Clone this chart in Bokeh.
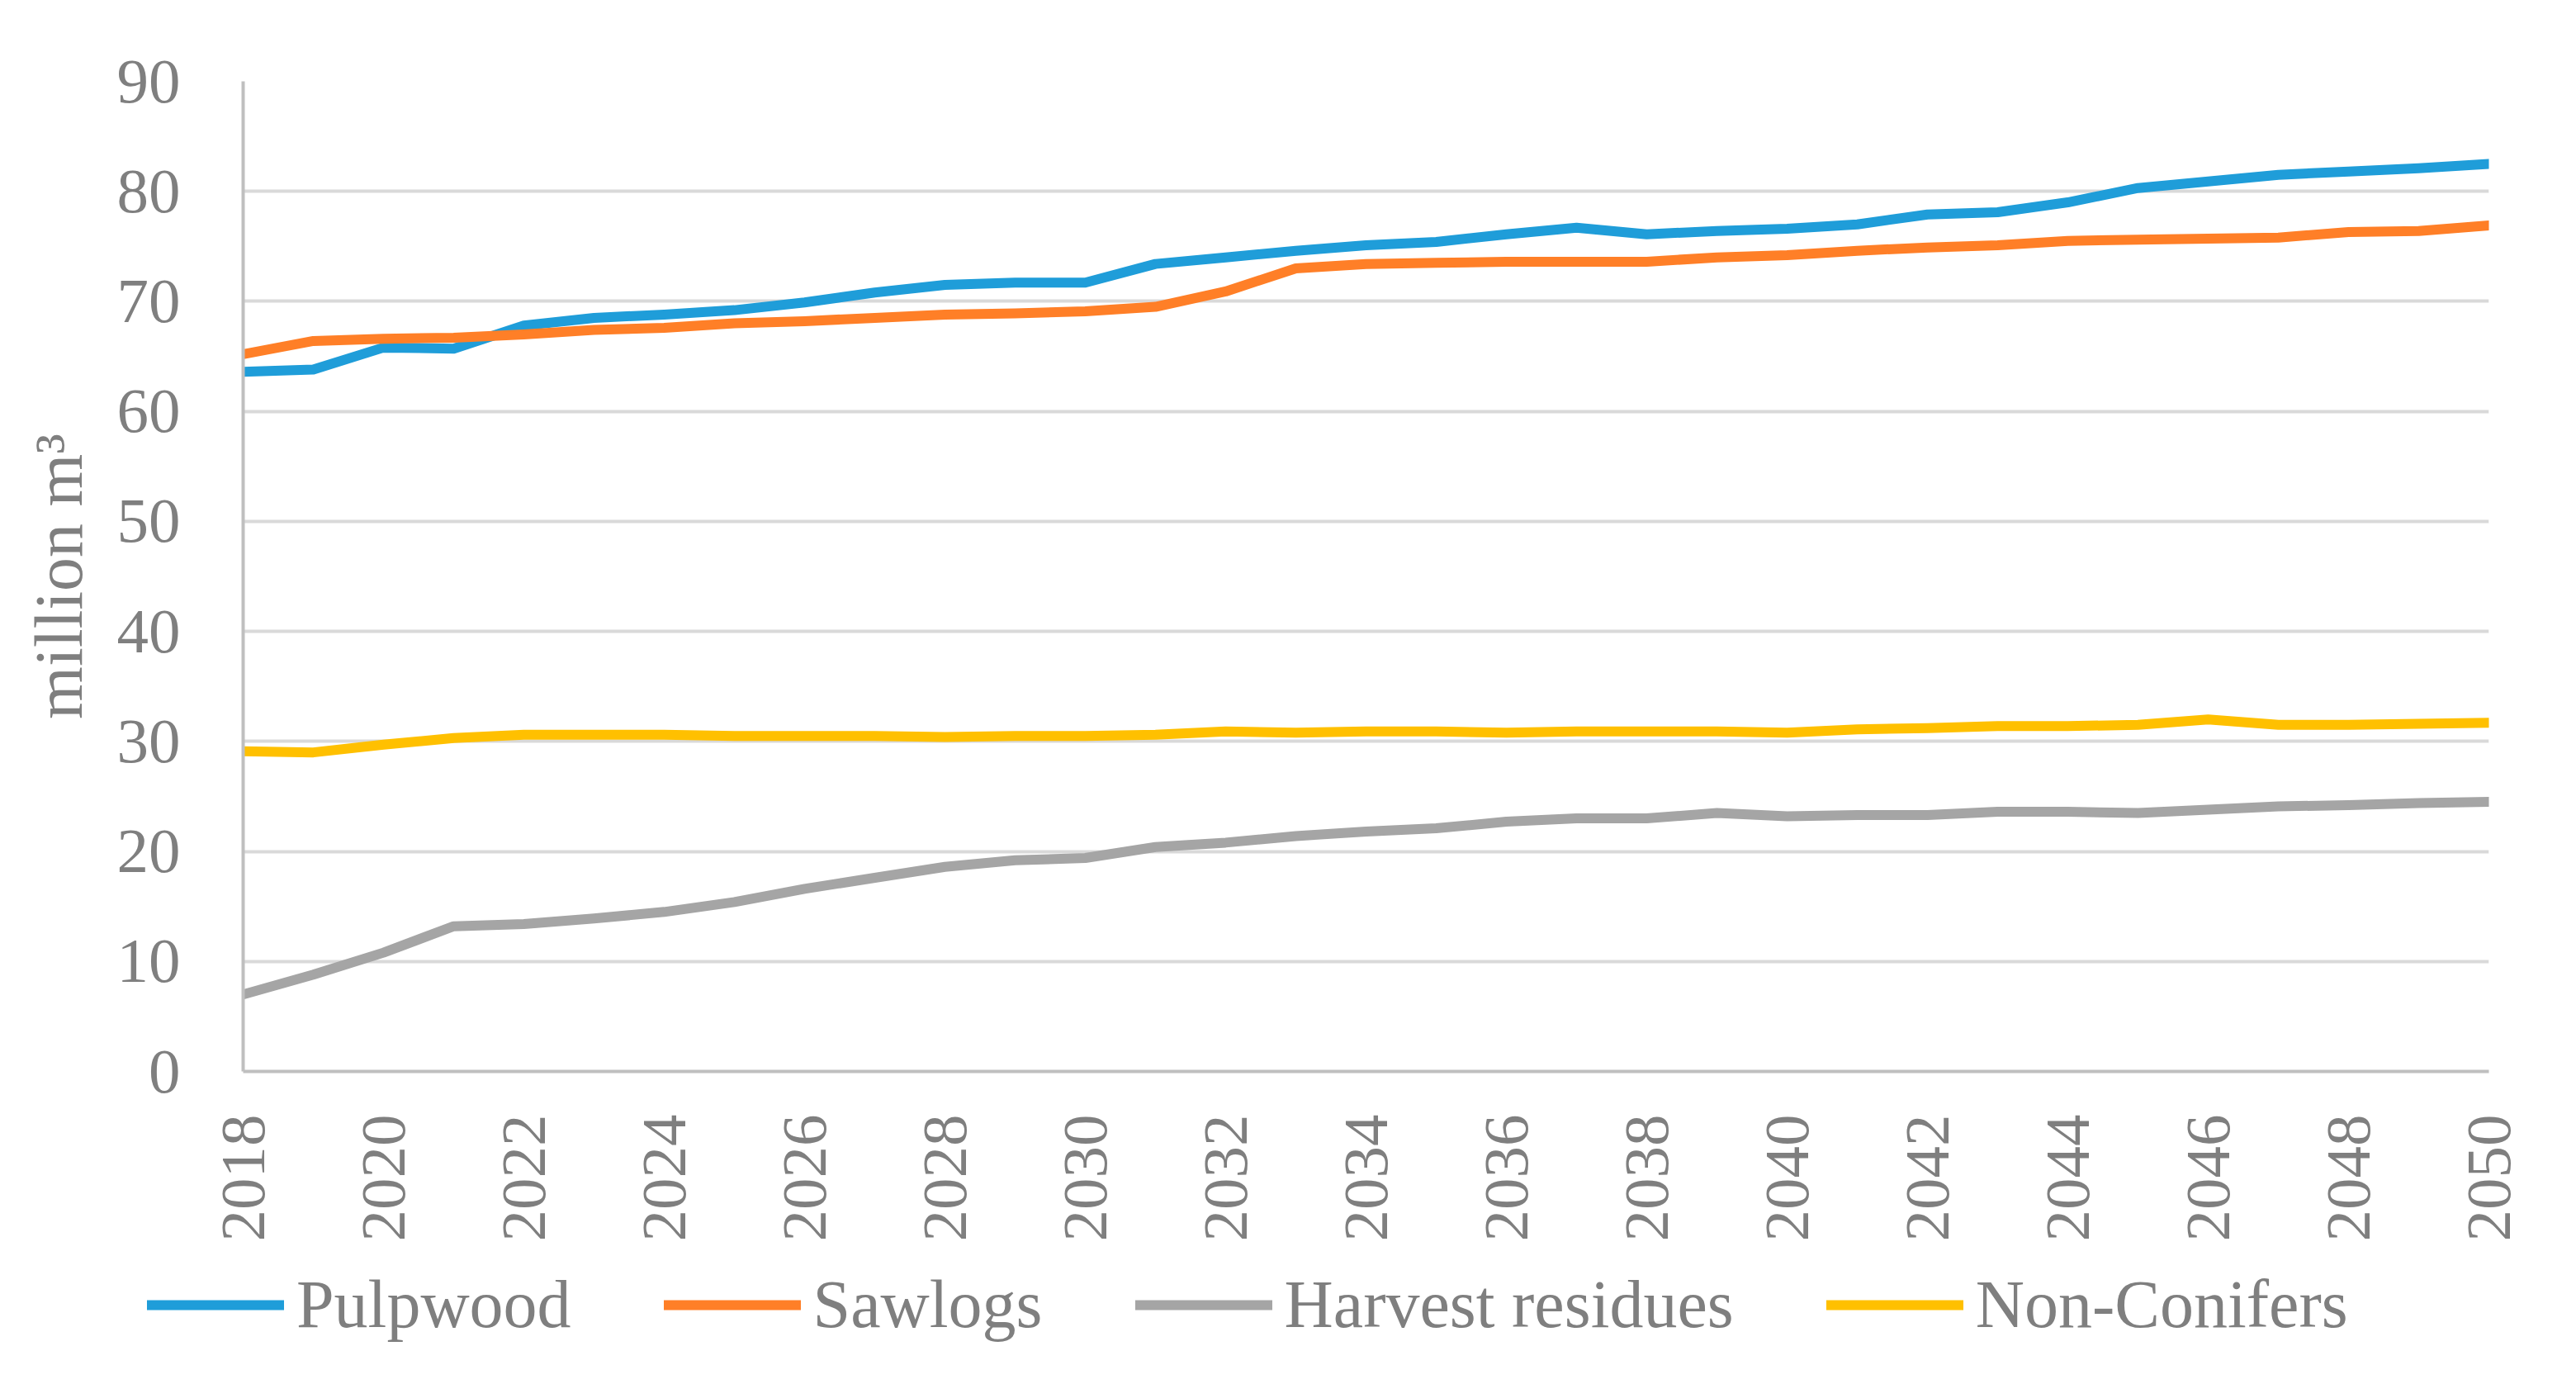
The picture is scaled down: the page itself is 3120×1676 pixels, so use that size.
import math
from bokeh.plotting import figure
from bokeh.layouts import column, row
from bokeh.models import Range1d, FixedTicker, Legend, LegendItem
from bokeh.embed import file_html
from bokeh.resources import INLINE

years = list(range(2018, 2051))

pulpwood = [63.6, 63.8, 65.8, 65.7, 67.8, 68.5, 68.8, 69.2, 69.9, 70.8, 71.5, 71.7, 71.7,
            73.4, 74.0, 74.6, 75.1, 75.4, 76.1, 76.7, 76.1, 76.4, 76.6, 77.0, 77.9, 78.1,
            79.0, 80.3, 80.9, 81.5, 81.8, 82.1, 82.5]
sawlogs = [65.2, 66.4, 66.6, 66.7, 67.0, 67.4, 67.6, 68.0, 68.2, 68.5, 68.8, 68.9, 69.1,
           69.5, 70.9, 73.0, 73.4, 73.5, 73.6, 73.6, 73.6, 74.0, 74.2, 74.6, 74.9, 75.1,
           75.5, 75.6, 75.7, 75.8, 76.3, 76.4, 76.9]
harvest_residues = [7.0, 8.8, 10.8, 13.2, 13.4, 13.9, 14.5, 15.4, 16.6, 17.6, 18.6, 19.2, 19.4,
                    20.4, 20.8, 21.4, 21.8, 22.1, 22.7, 23.0, 23.0, 23.5, 23.2, 23.3, 23.3, 23.6,
                    23.6, 23.5, 23.8, 24.1, 24.2, 24.4, 24.5]
non_conifers = [29.1, 29.0, 29.7, 30.3, 30.6, 30.6, 30.6, 30.5, 30.5, 30.5, 30.4, 30.5, 30.5,
                30.6, 30.9, 30.8, 30.9, 30.9, 30.8, 30.9, 30.9, 30.9, 30.8, 31.1, 31.2, 31.4,
                31.4, 31.5, 32.0, 31.5, 31.5, 31.6, 31.7]

series_names = ["Pulpwood", "Sawlogs", "Harvest residues", "Non-Conifers"]
series_colors = ["#1f9dd9", "#ff7f27", "#a5a5a5", "#ffc000"]
series_values = [pulpwood, sawlogs, harvest_residues, non_conifers]

x_ticks = list(range(2018, 2051, 2))
y_ticks = list(range(0, 91, 10))

FONT = "Liberation Serif"
GREY = "#7f7f7f"
LINE_W = 12

p = figure(width=3104, height=1520, output_backend="svg", toolbar_location=None,
           x_range=Range1d(2018, 2050), y_range=Range1d(0, 90),
           min_border_left=294, min_border_right=90, min_border_top=98, min_border_bottom=223)
p.outline_line_color = None
p.background_fill_color = "white"
p.border_fill_color = "white"

# grid
p.xgrid.grid_line_color = None
p.ygrid.grid_line_color = "#d9d9d9"
p.ygrid.grid_line_width = 4
p.ygrid.ticker = FixedTicker(ticks=y_ticks)

# axes
for ax in (p.xaxis[0], p.yaxis[0]):
    ax.axis_line_color = "#bfbfbf"
    ax.axis_line_width = 4
    ax.major_tick_line_color = None
    ax.minor_tick_line_color = None
    ax.major_tick_out = 0
    ax.major_tick_in = 0
    ax.minor_tick_out = 0
    ax.minor_tick_in = 0
    ax.major_label_text_font = FONT
    ax.major_label_text_font_size = "77px"
    ax.major_label_text_color = GREY

p.xaxis.ticker = FixedTicker(ticks=x_ticks)
p.xaxis.major_label_orientation = math.pi / 2
p.xaxis.major_label_standoff = 52

p.yaxis.ticker = FixedTicker(ticks=y_ticks)
p.yaxis.major_label_standoff = 76
p.yaxis.axis_label = "million m³"
p.yaxis.axis_label_text_font = FONT
p.yaxis.axis_label_text_font_size = "82px"
p.yaxis.axis_label_text_font_style = "normal"
p.yaxis.axis_label_text_color = GREY
p.yaxis.axis_label_standoff = 22

for name, color, vals in zip(series_names, series_colors, series_values):
    p.line(years, vals, line_color=color, line_width=LINE_W,
           line_join="round", line_cap="round")

# legend strip below the chart (its own frame spans the whole strip)
lg = figure(width=3104, height=140, output_backend="svg", toolbar_location=None,
            x_range=Range1d(0, 1), y_range=Range1d(0, 1),
            x_axis_location=None, y_axis_location=None,
            min_border_left=0, min_border_right=0, min_border_top=0, min_border_bottom=0)
lg.grid.visible = False
lg.outline_line_color = None
lg.border_fill_color = "white"

nan = float("nan")
items = []
for name, color in zip(series_names, series_colors):
    r = lg.line([nan], [nan], line_color=color, line_width=LINE_W, line_cap="round")
    items.append(LegendItem(label=name, renderers=[r]))

legend = Legend(items=items, orientation="horizontal", location=(178, 33),
                glyph_width=166, glyph_height=40, label_standoff=15, spacing=112,
                padding=0, margin=0, border_line_color=None, background_fill_alpha=0,
                label_text_font=FONT, label_text_font_size="82px", label_text_color=GREY)
lg.add_layout(legend, "center")

layout = column(p, row(lg), spacing=0)
open("out.html", "w").write(file_html(layout, INLINE))
